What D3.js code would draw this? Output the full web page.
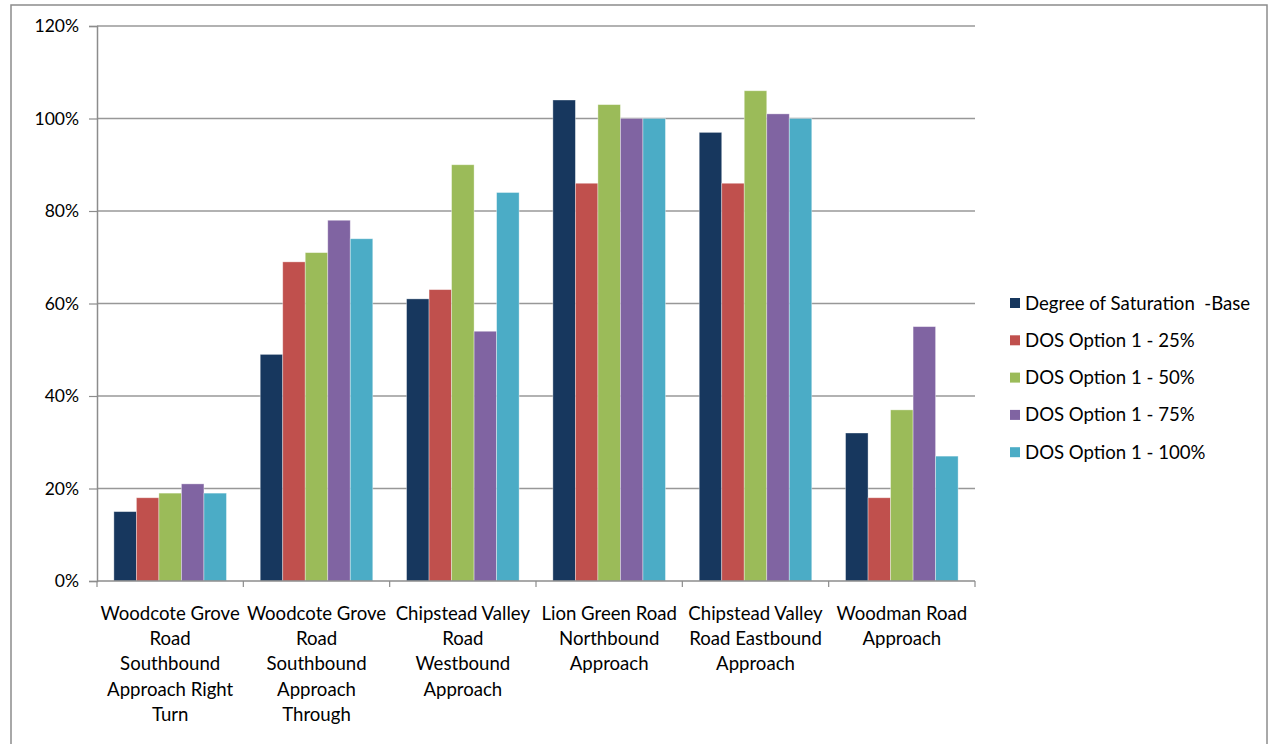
<!DOCTYPE html>
<html><head><meta charset="utf-8">
<script src="https://cdn.jsdelivr.net/npm/d3@7"></script>
<style>body{margin:0;background:#fff}svg{display:block}text{white-space:pre}</style>
</head><body>
<script>
const categories = [
  ["Woodcote Grove","Road","Southbound","Approach Right","Turn"],
  ["Woodcote Grove","Road","Southbound","Approach","Through"],
  ["Chipstead Valley","Road","Westbound","Approach"],
  ["Lion Green Road","Northbound","Approach"],
  ["Chipstead Valley","Road Eastbound","Approach"],
  ["Woodman Road","Approach"]
];
const seriesNames = ["Degree of Saturation  -Base","DOS Option 1 - 25%","DOS Option 1 - 50%","DOS Option 1 - 75%","DOS Option 1 - 100%"];
const base   = [15, 49, 61, 104, 97, 32];
const opt25  = [18, 69, 63, 86, 86, 18];
const opt50  = [19, 71, 90, 103, 106, 37];
const opt75  = [21, 78, 54, 100, 101, 55];
const opt100 = [19, 74, 84, 100, 100, 27];
const yTicks = [0, 20, 40, 60, 80, 100, 120];
const colors = ["#17375E","#C0504D","#9BBB59","#8064A2","#4BACC6"];
const series = [base, opt25, opt50, opt75, opt100];

const W = 1270, H = 744;
const font = "Lato, 'Open Sans', sans-serif";
const svg = d3.select("body").append("svg").attr("width", W).attr("height", H);

// outer frame
svg.append("rect").attr("x", 11).attr("y", 5).attr("width", 1256).attr("height", 745)
  .attr("fill", "none").attr("stroke", "#8c8c8c").attr("stroke-width", 1.5);

const x0 = 97, x1 = 975, yTop = 26, yBot = 581;
const x = d3.scaleBand().domain(d3.range(categories.length)).range([x0, x1]).paddingInner(0).paddingOuter(0);
const y = d3.scaleLinear().domain([0, 120]).range([yBot, yTop]);

// gridlines
svg.append("g").selectAll("line").data(yTicks.filter(d => d > 0)).join("line")
  .attr("x1", x0).attr("x2", x1).attr("y1", d => y(d)).attr("y2", d => y(d))
  .attr("stroke", "#989898").attr("stroke-width", 1.5);

// bars
const bw = x.bandwidth() / (5 + 1.5);
const gap = bw * 0.75;
series.forEach((s, i) => {
  svg.append("g").selectAll("rect").data(s).join("rect")
    .attr("x", (d, j) => x(j) + gap + i * bw)
    .attr("y", d => y(d))
    .attr("width", bw)
    .attr("height", d => yBot - y(d))
    .attr("fill", colors[i])
    .attr("stroke", "rgba(255,255,255,0.45)").attr("stroke-width", 0.8);
});

// y axis
const yAxis = svg.append("g").attr("transform", `translate(${x0},0)`)
  .call(d3.axisLeft(y).tickValues(yTicks).tickSize(8).tickPadding(10).tickFormat(d => d + "%"));
yAxis.select(".domain").attr("stroke", "#8c8c8c").attr("stroke-width", 1.5);
yAxis.selectAll(".tick line").attr("stroke", "#8c8c8c").attr("stroke-width", 1.2);
yAxis.selectAll(".tick text").attr("font-family", font).attr("font-size", 17.5).attr("fill", "#000");

// x axis
const xAxisG = svg.append("g").attr("transform", `translate(0,${yBot})`);
xAxisG.append("line").attr("x1", x0).attr("x2", x1).attr("stroke", "#8c8c8c").attr("stroke-width", 1.5);
xAxisG.selectAll("line.t").data(d3.range(categories.length + 1)).join("line").attr("class", "t")
  .attr("x1", d => x0 + d * x.bandwidth()).attr("x2", d => x0 + d * x.bandwidth())
  .attr("y1", 0).attr("y2", 6).attr("stroke", "#8c8c8c").attr("stroke-width", 1.2);

const labels = svg.append("g").selectAll("text").data(categories).join("text")
  .attr("font-family", font).attr("font-size", 18.6).attr("fill", "#000").attr("text-anchor", "middle");
labels.each(function(lines, j) {
  d3.select(this).selectAll("tspan").data(lines).join("tspan")
    .attr("x", x(j) + x.bandwidth() / 2)
    .attr("y", (d, k) => 620 + k * 25.2)
    .text(d => d);
});

// legend
const lg = svg.append("g").selectAll("g").data(seriesNames).join("g")
  .attr("transform", (d, i) => `translate(1010,${303 + i * 37.3})`);
lg.append("rect").attr("x", 0).attr("y", -5).attr("width", 10).attr("height", 10).attr("fill", (d, i) => colors[i]);
lg.append("text").attr("x", 15).attr("y", 6.5).attr("font-family", font).attr("font-size", 18.6).attr("fill", "#000").text(d => d);
</script>
</body></html>
